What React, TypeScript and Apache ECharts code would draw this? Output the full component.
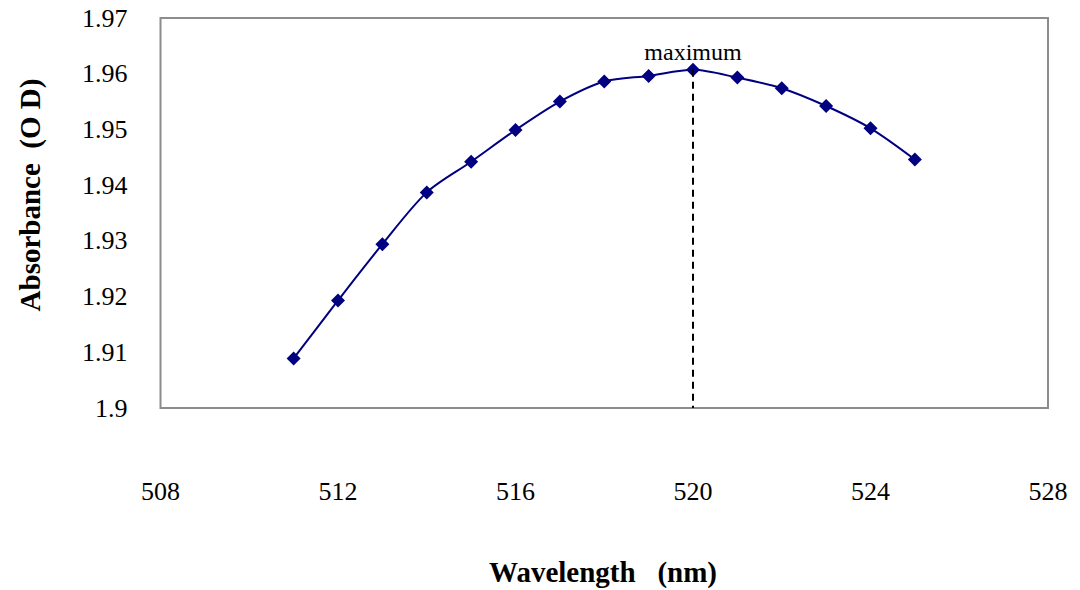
import React, { useEffect, useRef } from "react";
import * as echarts from "echarts";

const wavelengths = [511, 512, 513, 514, 515, 516, 517, 518, 519, 520, 521, 522, 523, 524, 525];
const absorbance = [1.9089, 1.9193, 1.9294, 1.9387, 1.9442, 1.9499, 1.955, 1.9586, 1.9596, 1.9607, 1.9593, 1.9574, 1.9542, 1.9502, 1.9446];
const maxWavelength = 520;
const maxAbsorbance = 1.9607;
const xTitle = "Wavelength   (nm)";
const yTitle = "Absorbance  (O D)";
const maxLabel = "maximum";

const FONT = "Liberation Serif";

export default function App() {
  const ref = useRef<HTMLDivElement>(null);
  useEffect(() => {
    if (!ref.current) return;
    const chart = echarts.init(ref.current, undefined, { renderer: "svg" });
    chart.setOption({
      animation: false,
      backgroundColor: "#ffffff",
      textStyle: { fontFamily: FONT },
      grid: {
        left: 160.5,
        top: 18,
        right: 32,
        bottom: 182,
        show: true,
        borderColor: "#8c8c8c",
        borderWidth: 2,
        backgroundColor: "transparent",
      },
      xAxis: {
        type: "value",
        min: 508,
        max: 528,
        interval: 4,
        axisLine: { show: false },
        axisTick: { show: false },
        splitLine: { show: false },
        axisLabel: {
          margin: 70,
          fontSize: 26,
          color: "#000",
          fontFamily: FONT,
        },
      },
      yAxis: {
        type: "value",
        min: 1.9,
        max: 1.97,
        interval: 0.01,
        axisLine: { show: false },
        axisTick: { show: false },
        splitLine: { show: false },
        axisLabel: {
          margin: 33,
          fontSize: 26,
          color: "#000",
          fontFamily: FONT,
          formatter: (v: number) => String(parseFloat(v.toFixed(2))),
        },
      },
      graphic: [
        {
          type: "text",
          x: 30,
          y: 195,
          rotation: Math.PI / 2,
          style: {
            text: yTitle,
            fontFamily: FONT,
            fontSize: 29,
            fontWeight: "bold",
            fill: "#000",
            align: "center",
            verticalAlign: "middle",
          },
        },
        {
          type: "text",
          x: 603,
          y: 572,
          style: {
            text: xTitle,
            fontFamily: FONT,
            fontSize: 29,
            fontWeight: "bold",
            fill: "#000",
            align: "center",
            verticalAlign: "middle",
          },
        },
      ],
      series: [
        {
          type: "line",
          data: wavelengths.map((w, i) => [w, absorbance[i]]),
          smooth: 0.3,
          symbol: "diamond",
          symbolSize: 14,
          itemStyle: { color: "#000080" },
          lineStyle: { color: "#000080", width: 2 },
          z: 3,
          markLine: {
            silent: true,
            symbol: "none",
            lineStyle: { color: "#000", type: [7, 5], width: 2 },
            label: { show: false },
            data: [
              [
                { coord: [maxWavelength, maxAbsorbance] },
                { coord: [maxWavelength, 1.9] },
              ],
            ],
          },
          markPoint: {
            silent: true,
            symbol: "circle",
            symbolSize: 0,
            label: {
              show: true,
              position: "top",
              distance: 6,
              formatter: maxLabel,
              fontSize: 24,
              color: "#000",
              fontFamily: FONT,
            },
            data: [{ coord: [maxWavelength, maxAbsorbance] }],
          },
        },
      ],
    });
    return () => chart.dispose();
  }, []);
  return (
    <div
      ref={ref}
      style={{ position: "fixed", left: 0, top: 0, width: 1080, height: 590, background: "#fff" }}
    />
  );
}
